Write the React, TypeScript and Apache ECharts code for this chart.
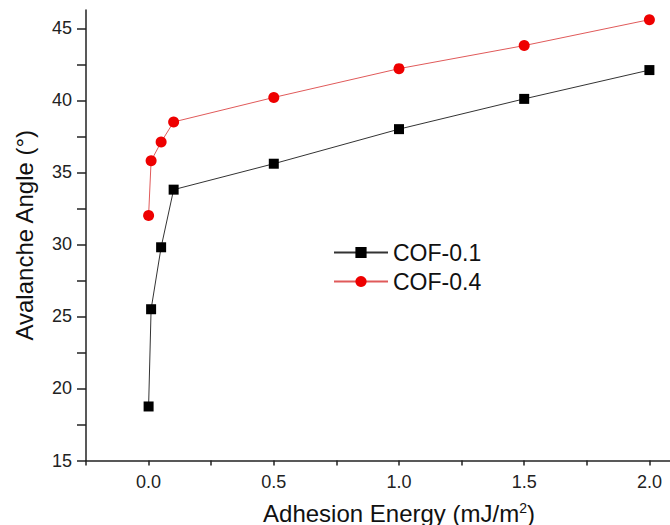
import React, { useEffect, useRef } from "react";
import * as echarts from "echarts";

const energy = [0, 0.01, 0.05, 0.1, 0.5, 1.0, 1.5, 2.0];
const cof01 = [18.75, 25.5, 29.8, 33.8, 35.6, 38.0, 40.1, 42.1];
const cof04 = [32.0, 35.8, 37.1, 38.5, 40.2, 42.2, 43.8, 45.6];
const xLabels = [0, 0.5, 1.0, 1.5, 2.0];
const xTicks = [-0.25, 0, 0.25, 0.5, 0.75, 1.0, 1.25, 1.5, 1.75, 2.0, 2.25];
const yLabels = [15, 20, 25, 30, 35, 40, 45];
const yTicks = [15, 17.5, 20, 22.5, 25, 27.5, 30, 32.5, 35, 37.5, 40, 42.5, 45];

const FONT = "'Liberation Sans', Arial, sans-serif";

export default function App() {
  const ref = useRef<HTMLDivElement>(null);
  useEffect(() => {
    if (!ref.current) return;
    const chart = echarts.init(ref.current, undefined, { renderer: "svg" });
    chart.setOption({
      animation: false,
      backgroundColor: "#ffffff",
      textStyle: { fontFamily: FONT },
      grid: { left: 86, top: 10, width: 626, height: 450.5, containLabel: false, outerBoundsMode: "none" },
      legend: {
        orient: "vertical",
        left: 328,
        top: 236,
        itemWidth: 54,
        itemHeight: 14,
        itemGap: 6,
        textStyle: { fontSize: 23, color: "#111", fontFamily: FONT },
        data: ["COF-0.1", "COF-0.4"],
      },
      xAxis: {
        type: "value",
        min: -0.25,
        max: 2.25,
        name: "Adhesion Energy (mJ/m{sup|2})",
        nameLocation: "middle",
        nameGap: 40,
        nameTextStyle: {
          fontSize: 24,
          color: "#111",
          fontFamily: FONT,
          rich: { sup: { fontSize: 14, verticalAlign: "top", padding: [0, 0, 12, 0], color: "#111", fontFamily: FONT } },
        },
        axisLine: { show: true, onZero: false, lineStyle: { color: "#222", width: 1.5 } },
        axisTick: { show: true, inside: false, length: 5, customValues: xTicks, lineStyle: { color: "#222", width: 1.5 } },
        axisLabel: {
          customValues: xLabels,
          fontSize: 18,
          color: "#222",
          margin: 12,
          formatter: (v: number) => v.toFixed(1),
        },
        splitLine: { show: false },
      },
      yAxis: {
        type: "value",
        min: 15,
        max: 46.27,
        name: "Avalanche Angle (°)",
        nameLocation: "middle",
        nameGap: 50,
        nameTextStyle: { fontSize: 24, color: "#111", fontFamily: FONT },
        axisLine: { show: true, onZero: false, lineStyle: { color: "#222", width: 1.5 } },
        axisTick: { show: true, inside: false, length: 9, customValues: yTicks, lineStyle: { color: "#222", width: 1.5 } },
        axisLabel: { customValues: yLabels, fontSize: 18, color: "#222", margin: 14 },
        splitLine: { show: false },
      },
      series: [
        {
          name: "COF-0.1",
          type: "line",
          data: energy.map((x, i) => [x, cof01[i]]),
          symbol: "rect",
          symbolSize: 10,
          itemStyle: { color: "#000000" },
          lineStyle: { color: "#333333", width: 1 },
          z: 3,
        },
        {
          name: "COF-0.4",
          type: "line",
          data: energy.map((x, i) => [x, cof04[i]]),
          symbol: "circle",
          symbolSize: 11,
          itemStyle: { color: "#ee0000" },
          lineStyle: { color: "#e05a5a", width: 1 },
          z: 3,
        },
      ],
    });
    return () => chart.dispose();
  }, []);
  return (
    <div
      ref={ref}
      style={{ position: "fixed", left: 0, top: 0, width: 670, height: 525, overflow: "hidden", background: "#fff" }}
    />
  );
}
